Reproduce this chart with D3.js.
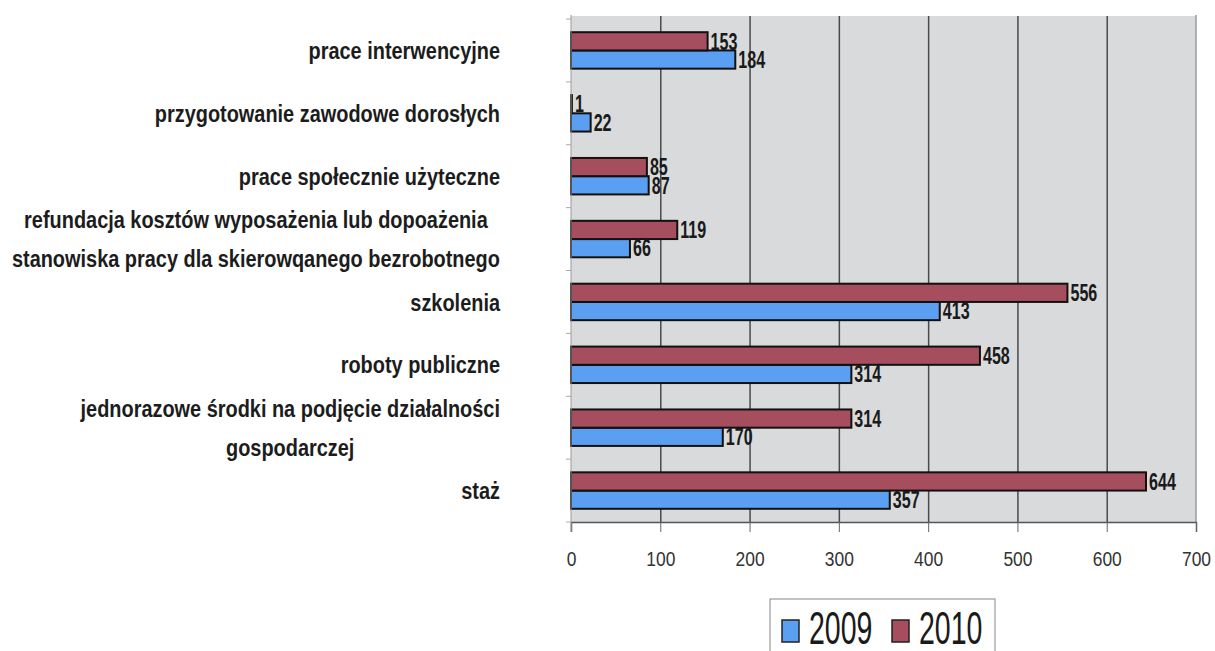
<!DOCTYPE html>
<html>

<head>
  <meta charset="utf-8">
  <script src="https://d3js.org/d3.v7.min.js"></script>
  <style>
    body { margin: 0; background: #fff; }
  </style>
</head>

<body>
  <svg id="chart" height="651" width="1215"></svg>
  <script>
    // categories from top to bottom, "\n" marks a line break in the label
    const categories = [
      "prace interwencyjne",
      "przygotowanie zawodowe dorosłych",
      "prace społecznie użyteczne",
      "refundacja kosztów wyposażenia lub dopoażenia\nstanowiska pracy dla skierowqanego bezrobotnego",
      "szkolenia",
      "roboty publiczne",
      "jednorazowe środki na podjęcie działalności\ngospodarczej",
      "staż"
    ];
    const values2009 = [184, 22, 87, 66, 413, 314, 170, 357];
    const values2010 = [153, 1, 85, 119, 556, 458, 314, 644];
    const seriesNames = ["2009", "2010"];
    const xTicks = [0, 100, 200, 300, 400, 500, 600, 700];

    const svg = d3.select('svg#chart');
    const margins = { top: 19, left: 571, right: 19, bottom: 129 };
    const width = +svg.attr('width');
    const height = +svg.attr('height');
    const plotRight = width - margins.right;
    const plotBottom = height - margins.bottom;

    const colors = { "2009": "#5b9ff2", "2010": "#a64e5d" };
    const font = "'Liberation Sans', Arial, sans-serif";
    // the original uses a narrow face, so texts are squeezed horizontally
    const squeeze = (x, y, sx) => `translate(${x},${y}) scale(${sx},1)`;

    const xScale = d3.scaleLinear().domain([0, 700]).range([margins.left, plotRight]);
    const yScale = d3.scaleBand().domain(categories).range([margins.top, plotBottom])
      .paddingInner(0.42).paddingOuter(0.21);
    // 2010 bar sits on top, 2009 below
    const subScale = d3.scaleBand().domain(["2010", "2009"]).range([0, yScale.bandwidth()]);

    // plot background
    svg.append('rect')
      .attr('x', margins.left)
      .attr('y', margins.top - 3)
      .attr('width', plotRight - margins.left)
      .attr('height', plotBottom - margins.top + 3)
      .attr('fill', '#d8dadc');

    // vertical gridlines
    svg.append('g')
      .attr('transform', `translate(0,${plotBottom})`)
      .call(d3.axisBottom(xScale).tickValues(xTicks.slice(1, -1)).tickSize(-(plotBottom - margins.top + 3)).tickFormat(""))
      .call(g => g.select('.domain').remove())
      .call(g => g.selectAll('line').attr('stroke', '#4a4a4a').attr('stroke-width', 1.5));

    // right border
    svg.append('line')
      .attr('x1', plotRight).attr('x2', plotRight)
      .attr('y1', margins.top - 4).attr('y2', plotBottom)
      .attr('stroke', '#9a9a9a').attr('stroke-width', 1.5);

    // bars
    const rows = categories.map((c, i) => ({ cat: c, "2009": values2009[i], "2010": values2010[i] }));
    const groups = svg.append('g').selectAll('g').data(rows).join('g')
      .attr('transform', d => `translate(0,${yScale(d.cat)})`);

    groups.selectAll('rect').data(d => seriesNames.map(s => ({ key: s, value: d[s] })))
      .join('rect')
      .attr('x', xScale(0))
      .attr('y', d => subScale(d.key))
      .attr('width', d => xScale(d.value) - xScale(0))
      .attr('height', subScale.bandwidth())
      .attr('fill', d => colors[d.key])
      .attr('stroke', '#111')
      .attr('stroke-width', 2);

    groups.selectAll('text').data(d => seriesNames.map(s => ({ key: s, value: d[s] })))
      .join('text')
      .attr('transform', d => squeeze(xScale(d.value) + 3, subScale(d.key) + subScale.bandwidth() / 2, 0.7))
      .attr('dy', '0.36em')
      .style('font', `bold 23px ${font}`)
      .attr('fill', '#1a1a1a')
      .text(d => d.value);

    // bottom axis
    const bottomAxis = svg.append('g')
      .attr('transform', `translate(0,${plotBottom})`)
      .call(d3.axisBottom(xScale).tickValues(xTicks).tickSize(10).tickPadding(16));
    bottomAxis.select('.domain').attr('stroke', '#555').attr('stroke-width', 1.5);
    bottomAxis.selectAll('line').attr('stroke', '#666');
    bottomAxis.selectAll('text')
      .attr('y', null).attr('dy', null)
      .attr('transform', squeeze(0, 44, 0.83))
      .style('font', `21px ${font}`)
      .attr('fill', '#333');

    // left axis (category separators)
    svg.append('line')
      .attr('x1', margins.left).attr('x2', margins.left)
      .attr('y1', margins.top - 4).attr('y2', plotBottom + 10)
      .attr('stroke', '#999');
    const step = yScale.step();
    svg.append('g').selectAll('line').data(d3.range(categories.length + 1))
      .join('line')
      .attr('x1', margins.left - 5).attr('x2', margins.left)
      .attr('y1', i => margins.top + i * step).attr('y2', i => margins.top + i * step)
      .attr('stroke', '#aaa');

    // category labels, multi-line blocks are centred and right aligned to the axis
    const labelRight = 500;
    const lineGap = 39;
    const labelScale = 0.83;
    rows.forEach(d => {
      const lines = d.cat.split("\n");
      const cy = yScale(d.cat) + yScale.bandwidth() / 2;
      const texts = svg.append('g').selectAll('text').data(lines).join('text')
        .attr('dy', '0.36em')
        .style('font', `bold 24px ${font}`)
        .attr('fill', '#1c1c1c')
        .text(l => l);
      const w = d3.max(texts.nodes(), n => n.getComputedTextLength()) * labelScale;
      const x = lines.length == 1 ? labelRight : labelRight - w / 2;
      texts.style('text-anchor', lines.length == 1 ? 'end' : 'middle')
        .attr('transform', (l, i) => squeeze(x, cy + (i - (lines.length - 1) / 2) * lineGap, labelScale));
    });

    // legend
    const legend = svg.append('g').attr('transform', 'translate(770,599)');
    legend.append('rect')
      .attr('width', 225).attr('height', 70)
      .attr('fill', '#fff').attr('stroke', '#888');
    const items = legend.selectAll('.item').data(seriesNames).join('g')
      .attr('class', 'item')
      .attr('transform', (d, i) => `translate(${12 + i * 110},0)`);
    items.append('rect')
      .attr('y', 21).attr('width', 17).attr('height', 22)
      .attr('fill', d => colors[d])
      .attr('stroke', '#222').attr('stroke-width', 1.5);
    items.append('text')
      .attr('transform', squeeze(27, 45, 0.62))
      .style('font', `46px ${font}`)
      .attr('fill', '#1a1a1a')
      .text(d => d);
  </script>
</body>

</html>
